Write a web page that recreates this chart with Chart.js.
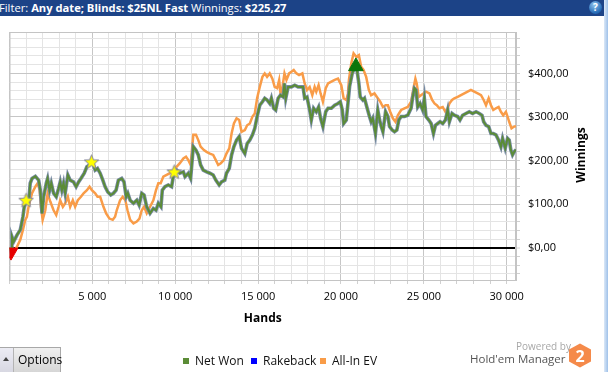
<!DOCTYPE html>
<html>
<head>
<meta charset="utf-8">
<script src="https://cdn.jsdelivr.net/npm/chart.js@4.4.1/dist/chart.umd.min.js"></script>
<style>
  body { margin: 0; width: 608px; height: 372px; overflow: hidden; background: #fff; position: relative; font-family: "Open Sans", sans-serif; }
  #hdr { position: absolute; left: 0; top: 0; width: 604px; height: 16px; background: #1c4387; color: #fff; font-size: 11.2px; line-height: 16px; white-space: nowrap; }
  #hdr span { margin-left: -1px; }
  #hdr b { font-weight: 700; }
  #help { position: absolute; left: 589px; top: 1px; width: 13px; height: 13px; border-radius: 50%; background: radial-gradient(circle at 40% 30%, #8fc2ee, #2268b4 70%); color: #fff; font: bold 10px/13px "Open Sans", sans-serif; text-align: center; }
  #edge { position: absolute; left: 604px; top: 0; width: 4px; height: 372px; background: linear-gradient(to right, #dbe8f7, #9fc1e9); }
  #chart { position: absolute; left: 0; top: 0; }
  #legend { position: absolute; left: 183px; top: 353px; display: flex; font-size: 12px; line-height: 16px; color: #111; white-space: nowrap; }
  #legend .item { display: flex; align-items: center; flex: none; }
  #legend .box { width: 6px; height: 6px; margin-right: 6px; flex: none; }
  #opts { position: absolute; left: 0; top: 347px; width: 60px; height: 24px; border: 1px solid #a8a8a8; border-left: none; background: linear-gradient(#f0f0f0, #d6d6d6); font-size: 12px; line-height: 24px; }
  #opts .arr { position: absolute; left: 0; top: 0; width: 13px; height: 24px; background: linear-gradient(#ececf4, #d8d8e2); border-right: 1px solid #b4b4b4; }
  #opts .arr:after { content: ""; position: absolute; left: 3px; top: 9px; border-left: 3.5px solid transparent; border-right: 3.5px solid transparent; border-bottom: 4px solid #444; }
  #opts .lbl { position: absolute; left: 18px; top: 0; color: #000; }
  #powered { position: absolute; left: 516px; top: 339px; font-size: 10px; color: #a8a8a8; }
  #hm { position: absolute; left: 470px; top: 351px; font-size: 11.5px; color: #555; white-space: nowrap; }
  #logo { position: absolute; left: 568px; top: 343px; }
</style>
</head>
<body>
<div id="hdr"><span>Filter: <b>Any date; Blinds: $25NL Fast</b> Winnings: <b>$225,27</b></span></div>
<div id="help">?</div>
<div id="edge"></div>
<canvas id="chart" width="604" height="372"></canvas>
<div id="legend"></div>
<div id="opts"><span class="arr"></span><span class="lbl">Options</span></div>
<div id="powered">Powered by</div>
<div id="hm">Hold'em Manager</div>
<svg id="logo" width="24" height="25" viewBox="0 0 24 25">
  <polygon points="12,0.5 23,6.5 23,18.5 12,24.5 1,18.5 1,6.5" fill="#f58a4a"/>
  <text x="12" y="19" text-anchor="middle" font-family="Open Sans, sans-serif" font-weight="700" font-size="16" fill="#fff">2</text>
</svg>
<script>
// hands played vs cumulative winnings ($)
const netHands = [0, 100, 150, 250, 450, 650, 810, 890, 1010, 1150,
  1250, 1360, 1560, 1760, 1860, 1960, 2060, 2220, 2300, 2420,
  2520, 2660, 2820, 2960, 3060, 3160, 3260, 3360, 3520, 3660,
  3860, 4020, 4170, 4310, 4510, 4670, 4830, 4990, 5170, 5310,
  5470, 5630, 5770, 5930, 6110, 6270, 6430, 6570, 6770, 6910,
  7040, 7140, 7280, 7480, 7680, 7820, 7980, 8120, 8280, 8480,
  8680, 8840, 8980, 9140, 9220, 9380, 9580, 9780, 9930, 10090,
  10280, 10490, 10590, 10790, 10930, 11090, 11250, 11390, 11530, 11690,
  11890, 12090, 12290, 12450, 12650, 12790, 12990, 13090, 13260, 13400,
  13540, 13700, 13860, 14000, 14200, 14340, 14500, 14660, 14800, 14940,
  15100, 15260, 15400, 15540, 15700, 15800, 15940, 16060, 16210, 16350,
  16510, 16590, 16670, 16810, 17010, 17210, 17410, 17610, 17710, 17810,
  17950, 18110, 18210, 18350, 18510, 18650, 18770, 18910, 19080, 19220,
  19420, 19620, 19820, 19960, 20080, 20160, 20320, 20420,
  20520, 20680, 20820, 20900, 20980, 21080, 21160, 21320, 21420, 21560,
  21720, 21820, 21920, 22080, 22220, 22330, 22430, 22530, 22690, 22830,
  22930, 23090, 23230, 23370, 23490, 23630, 23830, 24030, 24230, 24330,
  24430, 24530, 24630, 24770, 24930, 25030, 25130, 25300, 25440, 25580,
  25700, 25840, 25980, 26140, 26300, 26440, 26540, 26700, 26840, 27040,
  27180, 27340, 27540, 27740, 27940, 28150, 28350, 28510, 28610, 28750,
  28910, 29050, 29190, 29350, 29510, 29650, 29750, 29910, 30050, 30150,
  30250, 30350, 30450, 30560];
const netWon = [0, -10, 25, 14, 29, 41, 71, 94, 106, 102,
  148, 159, 164, 155, 132, 79, 117, 148, 159, 132,
  148, 125, 117, 136, 151, 132, 148, 125, 167, 155,
  151, 140, 151, 159, 171, 186, 190, 197, 178, 182,
  171, 155, 140, 128, 121, 125, 132, 155, 159, 151,
  117, 125, 109, 102, 109, 98, 125, 121, 94, 79,
  90, 86, 102, 94, 132, 140, 144, 140, 174, 178,
  171, 174, 163, 171, 159, 232, 224, 213, 190, 178,
  174, 171, 167, 155, 144, 151, 155, 171, 182, 213,
  232, 247, 255, 228, 216, 239, 247, 259, 274, 301,
  327, 335, 343, 339, 331, 343, 320, 316, 343, 350,
  346, 377, 343, 369, 369, 373, 369, 369, 369, 343,
  346, 316, 293, 320, 312, 323, 297, 278, 312, 320,
  320, 327, 331, 335, 316, 285, 293, 331,
  370, 400, 413, 417, 404, 377, 346, 339, 343, 323,
  301, 289, 297, 262, 316, 293, 278, 266, 312, 301,
  278, 270, 266, 270, 293, 301, 301, 304, 320, 346,
  366, 362, 323, 331, 316, 343, 301, 293, 285, 262,
  281, 285, 289, 285, 293, 316, 289, 308, 304, 301,
  293, 304, 308, 312, 308, 312, 308, 304, 289, 281,
  278, 262, 262, 259, 247, 232, 251, 228, 251, 247,
  224, 213, 220, 225];

const evHands = [0, 150, 290, 450, 650, 810, 950, 1050, 1150, 1360,
  1560, 1700, 1820, 1900, 2000, 2160, 2300, 2460, 2660, 2820,
  2960, 3060, 3220, 3360, 3520, 3660, 3820, 3960, 4120, 4310,
  4470, 4670, 4830, 4970, 5170, 5310, 5470, 5670, 5830, 6030,
  6230, 6370, 6470, 6670, 6830, 6990, 7120, 7280, 7480, 7680,
  7840, 7980, 8120, 8280, 8480, 8680, 8840, 8980, 9120, 9280,
  9480, 9680, 9880, 10090,
  10280, 10490, 10650, 10790, 10930, 11090, 11250, 11390, 11530, 11730,
  11890, 12090, 12290, 12450, 12590, 12750, 12930, 13090, 13260, 13400,
  13540, 13700, 13860, 14000, 14200, 14340, 14500, 14660, 14800, 14940,
  15100, 15260, 15400, 15540, 15700, 15860, 16000, 16150, 16270, 16350,
  16470, 16590, 16710, 16870, 17010, 17150, 17310, 17470, 17670, 17810,
  17950, 18110, 18270, 18410, 18510, 18650, 18770, 18910, 19080, 19220,
  19420, 19620, 19820, 20020, 20160, 20320,
  20420, 20480, 20620, 20760, 20920, 21080, 21220, 21360, 21520, 21680,
  21820, 22020, 22220, 22370, 22530, 22690, 22830, 22970, 23130, 23290,
  23430, 23630, 23830, 24030, 24230, 24390, 24490, 24570, 24690, 24830,
  24970, 25130, 25340, 25500, 25640, 25780, 25940, 26140, 26300, 26440,
  26540, 26700, 26840, 27040, 27240, 27440, 27640, 27840, 28040, 28250,
  28450, 28610, 28750, 28910, 29050, 29190, 29350, 29510, 29650, 29790,
  29950, 30050, 30150, 30290, 30450, 30560];
const allInEv = [0, -3, -6, 2, 18, 41, 64, 71, 94, 125,
  140, 148, 132, 94, 64, 86, 125, 106, 86, 75,
  94, 109, 94, 102, 117, 94, 109, 94, 109, 117,
  125, 132, 140, 132, 125, 117, 117, 94, 79, 67,
  64, 71, 86, 109, 117, 109, 86, 64, 56, 60,
  67, 86, 94, 79, 94, 109, 132, 148, 148, 163,
  167, 171, 178, 186,
  194, 205, 209, 201, 190, 259, 259, 247, 232, 224,
  220, 216, 213, 201, 190, 194, 201, 216, 228, 262,
  285, 297, 293, 266, 270, 281, 285, 301, 308, 343,
  369, 392, 400, 392, 400, 388, 369, 366, 385, 354,
  369, 400, 385, 400, 404, 408, 400, 396, 400, 377,
  362, 369, 350, 369, 358, 373, 354, 335, 366, 377,
  381, 385, 388, 373, 343, 339,
  354, 385, 423, 446, 438, 442, 415, 408, 392, 362,
  350, 354, 343, 335, 323, 327, 327, 312, 297, 289,
  304, 316, 320, 323, 335, 369, 388, 377, 346, 350,
  354, 358, 354, 339, 331, 327, 320, 323, 312, 320,
  331, 339, 343, 346, 350, 354, 358, 362, 358, 354,
  350, 339, 327, 343, 327, 316, 320, 323, 312, 304,
  312, 301, 289, 274, 278, 279];

const rakeHands = [];
const rakeback = [];

// milestone stars, best and worst point
const starHands = [1000, 4950, 9940];
const starValues = [109, 197, 174];
const peakHands = [20900];
const peakValues = [416];
const lowHands = [90];
const lowValues = [-10];

const xLabelHands = [5000, 10000, 15000, 20000, 25000, 30000];
const yLabelValues = [0, 100, 200, 300, 400];
const xMin = 0, xMax = 30560;
const yMin = -74, yMax = 495;

const pts = (xs, ys) => xs.map((x, i) => ({ x: x, y: ys[i] }));
const spaced = (v) => String(v).replace(/\B(?=(\d{3})+(?!\d))/g, " ");

const xGrid = [];
for (let v = 0; v <= 30000; v += 1000) xGrid.push(v);
const yGrid = [];
for (let v = -60; v <= 480; v += 20) yGrid.push(v);

function makeStar() {
  const c = document.createElement("canvas");
  c.width = 17;
  c.height = 17;
  const g = c.getContext("2d");
  g.beginPath();
  for (let i = 0; i < 10; i++) {
    const r = i % 2 ? 3.3 : 7.6;
    const a = -Math.PI / 2 + (i * Math.PI) / 5;
    g.lineTo(8.5 + r * Math.cos(a), 9 + r * Math.sin(a));
  }
  g.closePath();
  g.fillStyle = "#ffff00";
  g.fill();
  g.strokeStyle = "#8585a0";
  g.lineWidth = 1;
  g.stroke();
  return c;
}

const frame = {
  id: "frame",
  beforeDatasetsDraw(chart) {
    const { ctx, chartArea: a } = chart;
    ctx.save();
    ctx.strokeStyle = "#c4c4c4";
    ctx.lineWidth = 1;
    ctx.strokeRect(a.left + 0.5, a.top + 0.5, a.right - a.left - 1, a.bottom - a.top);
    ctx.restore();
  },
  afterDraw(chart) {
    const ctx = chart.ctx;
    ctx.save();
    ctx.translate(582, 155);
    ctx.rotate(-Math.PI / 2);
    ctx.font = 'bold 12px "Open Sans", sans-serif';
    ctx.fillStyle = "#000";
    ctx.textAlign = "center";
    ctx.textBaseline = "middle";
    ctx.fillText("Winnings", 0, 0);
    ctx.restore();
  },
};

Chart.defaults.font.family = '"Open Sans", sans-serif';
Chart.defaults.color = "#000";

const line = (label, xs, ys, color, width, order) => ({
  label: label,
  data: pts(xs, ys),
  borderColor: color,
  backgroundColor: color,
  borderWidth: width,
  pointRadius: 0,
  tension: 0,
  order: order,
});

const ctx = document.getElementById("chart").getContext("2d");
const chart = new Chart(ctx, {
  type: "line",
  data: {
    datasets: [
      line("Net Won", netHands, netWon, "#5b8c36", 2, 3),
      line("Rakeback", rakeHands, rakeback, "#0000ff", 2, 4),
      line("All-In EV", evHands, allInEv, "#f99c48", 2.5, 6),
      line("", netHands, netWon, "#7589a2", 3.6, 5),
      { type: "scatter", label: "", data: pts(starHands, starValues), pointStyle: makeStar(), pointRadius: 8, order: 1 },
      { type: "scatter", label: "", data: pts(peakHands, peakValues), pointStyle: "triangle", pointRadius: 8.5, backgroundColor: "#0b760b", borderColor: "#0b760b", borderWidth: 1, order: 1 },
      { type: "scatter", label: "", data: pts(lowHands, lowValues), pointStyle: "triangle", pointRotation: 180, pointRadius: 8, backgroundColor: "#e60000", borderColor: "#e60000", borderWidth: 1, order: 1 },
    ],
  },
  options: {
    responsive: false,
    animation: false,
    layout: { padding: { left: 8, top: 32, right: 0, bottom: 42 } },
    plugins: { legend: { display: false }, tooltip: { enabled: false } },
    scales: {
      x: {
        type: "linear",
        min: xMin,
        max: xMax,
        afterBuildTicks: (axis) => { axis.ticks = xGrid.map((v) => ({ value: v })); },
        afterFit: (axis) => { axis.height = 50; },
        ticks: {
          autoSkip: false,
          maxRotation: 0,
          padding: 6,
          font: { size: 11 },
          callback: (v) => (xLabelHands.includes(v) ? spaced(v) : ""),
        },
        grid: {
          color: (c) => (c.tick && c.tick.value % 5000 === 0 ? "#c6c6c6" : "#e4e4e4"),
          tickColor: "#d0d0d0",
          tickLength: 4,
        },
        border: { color: "#c4c4c4" },
        title: { display: true, text: "Hands", font: { size: 12, weight: "bold" }, padding: { top: 0, bottom: 4 } },
      },
      y: {
        position: "right",
        min: yMin,
        max: yMax,
        afterBuildTicks: (axis) => { axis.ticks = yGrid.map((v) => ({ value: v })); },
        afterFit: (axis) => { axis.width = 88; },
        ticks: {
          autoSkip: false,
          padding: 8,
          font: { size: 11 },
          callback: (v) => (yLabelValues.includes(v) ? "$" + v + ",00" : ""),
        },
        grid: {
          color: (c) => {
            const v = c.tick ? c.tick.value : 1;
            if (v === 0) return "#000";
            return v % 100 === 0 ? "#c6c6c6" : "#e4e4e4";
          },
          lineWidth: (c) => (c.tick && c.tick.value === 0 ? 2 : 1),
          tickColor: "#d0d0d0",
          tickWidth: 1,
          tickLength: 4,
        },
        border: { color: "#c4c4c4" },
      },
    },
  },
  plugins: [frame],
});

// html legend for the three series
const legendSlots = [68, 69, 0];
const legend = document.getElementById("legend");
chart.data.datasets.slice(0, 3).forEach((ds, i) => {
  const item = document.createElement("div");
  item.className = "item";
  if (legendSlots[i]) item.style.width = legendSlots[i] + "px";
  const box = document.createElement("span");
  box.className = "box";
  box.style.background = ds.borderColor;
  item.appendChild(box);
  item.appendChild(document.createTextNode(ds.label));
  legend.appendChild(item);
});
</script>
</body>
</html>
